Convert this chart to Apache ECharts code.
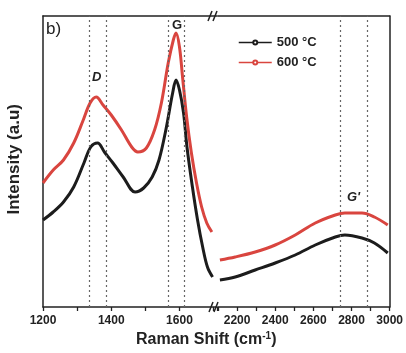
<!DOCTYPE html>
<html>
<head>
<meta charset="utf-8">
<script src="https://cdn.jsdelivr.net/npm/echarts@6/dist/echarts.min.js"></script>
<style>
  html, body { margin: 0; padding: 0; background: #fff; }
  #chart { width: 406px; height: 353px; }
</style>
</head>
<body>
<div id="chart"></div>
<script>
// Raman shift (cm-1) and intensity (a.u.)
// low range: D and G bands
const lowShift500 = [1200, 1230, 1260, 1290, 1320, 1340, 1360, 1380, 1405, 1435, 1470, 1495, 1520, 1540, 1560, 1580, 1590, 1600, 1612, 1622, 1638, 1653, 1668, 1682, 1697];
const low500 = [87, 95, 105, 120, 144, 160, 164, 155, 144, 130, 115, 119, 130, 147, 177, 214, 227, 217, 194, 160, 120, 87, 60, 40, 30];
const lowShift600 = [1200, 1230, 1260, 1290, 1318, 1338, 1356, 1376, 1400, 1430, 1460, 1478, 1503, 1527, 1547, 1567, 1582, 1590, 1600, 1609, 1621, 1635, 1650, 1665, 1680, 1695];
const low600 = [124, 137, 147, 164, 187, 204, 210, 202, 192, 177, 160, 155, 159, 177, 204, 244, 267, 274, 260, 230, 190, 154, 124, 100, 84, 75];

// high range: G' band
const highShift = [2110, 2190, 2295, 2400, 2505, 2610, 2715, 2765, 2855, 2920, 2990];
const high500 = [27, 30, 37, 44, 52, 62, 70, 72, 69, 64, 54];
const high600 = [47, 50, 55, 62, 72, 84, 92, 94, 94, 90, 82];

// dotted guide lines at the band positions
const lowGuides = [1335, 1385, 1568, 1615];
const highGuides = [2740, 2880];

const seriesNames = ["500 °C", "600 °C"];
const colors = ["#1c1c1c", "#d9453f"];

const chart = echarts.init(document.getElementById("chart"));

const FONT = "Liberation Sans";
const axisColor = "#222";

const pairs = (xs, ys) => xs.map((x, i) => [x, ys[i]]);

function guideLines(values) {
  return {
    silent: true,
    symbol: ["none", "none"],
    label: { show: false },
    lineStyle: { type: [2, 3], color: "#666", width: 1.2 },
    data: values.map((v) => ({ xAxis: v })),
  };
}

// labels only on every 200 cm-1
const tickLabel = (v) => (v % 200 === 0 ? String(v) : "");

function xBase(gridIndex, min, max, position, showLabels) {
  return {
    type: "value",
    gridIndex,
    position,
    min,
    max,
    interval: 100,
    axisLine: { show: true, onZero: false, lineStyle: { color: axisColor, width: 1.5 } },
    axisTick: { show: showLabels, length: 4, inside: false, lineStyle: { color: axisColor, width: 1.3 } },
    axisLabel: {
      show: showLabels,
      formatter: tickLabel,
      color: axisColor,
      fontFamily: FONT,
      fontWeight: "bold",
      fontSize: 12,
      margin: 8,
    },
    splitLine: { show: false },
  };
}

function yBase(gridIndex, position) {
  return {
    type: "value",
    gridIndex,
    position,
    min: 0,
    max: 291,
    axisLine: { show: true, lineStyle: { color: axisColor, width: 1.5 } },
    axisTick: { show: false },
    axisLabel: { show: false },
    splitLine: { show: false },
  };
}

function lineSeries(name, color, data, xIdx, yIdx, guides) {
  const s = {
    name,
    type: "line",
    xAxisIndex: xIdx,
    yAxisIndex: yIdx,
    data,
    smooth: 0.35,
    symbol: "emptyCircle",
    symbolSize: 4,
    showSymbol: false,
    lineStyle: { color, width: 3 },
    itemStyle: { color },
    animation: false,
  };
  if (guides) s.markLine = guideLines(guides);
  return s;
}

// "//" break marks on the top and bottom frame lines
function breakMark(x, y) {
  return {
    type: "group",
    children: [
      { type: "rect", shape: { x: x - 4, y: y - 2, width: 8, height: 4 }, style: { fill: "#fff" } },
      { type: "line", shape: { x1: x - 5, y1: y + 5, x2: x - 1, y2: y - 5 }, style: { stroke: axisColor, lineWidth: 1.5 } },
      { type: "line", shape: { x1: x, y1: y + 5, x2: x + 4, y2: y - 5 }, style: { stroke: axisColor, lineWidth: 1.5 } },
    ],
  };
}

const option = {
  backgroundColor: "#fff",
  animation: false,
  grid: [
    { left: 43, top: 16, width: 174, height: 291 },
    { left: 218, top: 16, width: 172, height: 291 },
  ],
  xAxis: [
    xBase(0, 1200, 1710, "bottom", true),
    xBase(0, 1200, 1710, "top", false),
    xBase(1, 2100, 3000, "bottom", true),
    xBase(1, 2100, 3000, "top", false),
  ],
  yAxis: [yBase(0, "left"), yBase(1, "right")],
  legend: {
    data: seriesNames,
    orient: "vertical",
    left: 233,
    top: 31,
    itemWidth: 33,
    itemHeight: 5,
    itemGap: 7,
    lineStyle: { width: 1.5 },
    textStyle: { fontFamily: FONT, fontWeight: "bold", fontSize: 13, color: axisColor },
  },
  series: [
    lineSeries(seriesNames[0], colors[0], pairs(lowShift500, low500), 0, 0, lowGuides),
    lineSeries(seriesNames[1], colors[1], pairs(lowShift600, low600), 0, 0),
    lineSeries(seriesNames[0], colors[0], pairs(highShift, high500), 2, 1, highGuides),
    lineSeries(seriesNames[1], colors[1], pairs(highShift, high600), 2, 1),
  ],
  graphic: [
    breakMark(214, 307),
    breakMark(213, 16),
    {
      type: "text", left: 46, top: 21,
      style: { text: "b)", fontFamily: FONT, fontSize: 17, fill: axisColor },
    },
    {
      type: "text", left: 92, top: 71,
      style: { text: "D", fontFamily: FONT, fontSize: 13, fontWeight: "bold", fontStyle: "italic", fill: axisColor },
    },
    {
      type: "text", left: 172, top: 19,
      style: { text: "G", fontFamily: FONT, fontSize: 13, fontWeight: "bold", fill: axisColor },
    },
    {
      type: "text", left: 347, top: 191,
      style: { text: "G'", fontFamily: FONT, fontSize: 13, fontWeight: "bold", fontStyle: "italic", fill: axisColor },
    },
    {
      type: "text", left: 6, top: 104, rotation: Math.PI / 2,
      style: { text: "Intensity (a.u)", fontFamily: FONT, fontSize: 17, fontWeight: "bold", fill: axisColor },
    },
    {
      type: "text", left: 136, top: 331,
      style: {
        text: "Raman Shift (cm{sup|-1})",
        fontFamily: FONT, fontSize: 16, fontWeight: "bold", fill: axisColor,
        rich: { sup: { fontFamily: FONT, fontSize: 10, fontWeight: "bold", verticalAlign: "top", padding: [0, 0, 8, 0] } },
      },
    },
  ],
};

chart.setOption(option);
</script>
</body>
</html>
